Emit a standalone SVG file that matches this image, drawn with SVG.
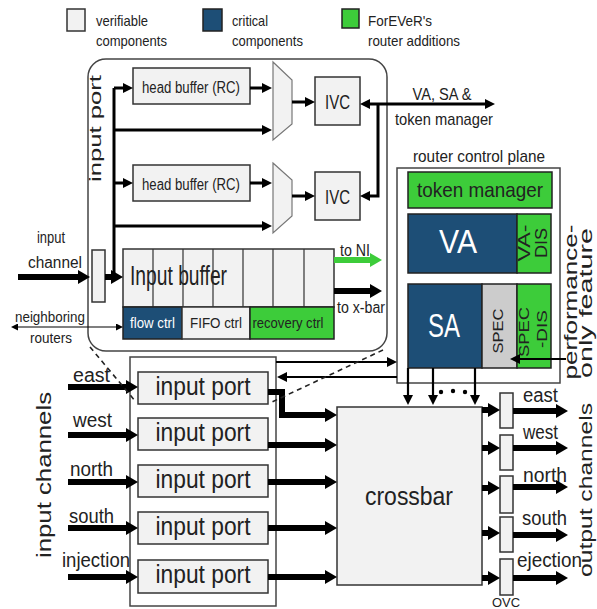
<svg xmlns="http://www.w3.org/2000/svg" width="597" height="609" viewBox="0 0 597 609">
<style>
text{font-family:"Liberation Sans",Arial,sans-serif;fill:#222;}
.lt{fill:#f2f2f2;stroke:#333;stroke-width:1.5;}
.bl{fill:#1d4e76;stroke:#222;stroke-width:1.5;}
.gr{fill:#3dcc3a;stroke:#222;stroke-width:1.5;}
.gy{fill:#cccccc;stroke:#222;stroke-width:1.5;}
.wh{fill:#fff;stroke:#444;stroke-width:1.5;}
.m{fill:none;stroke:#000;stroke-width:3;}
.m2{fill:none;stroke:#000;stroke-width:2.2;}
.t{fill:none;stroke:#000;stroke-width:6;}
.s{fill:none;stroke:#000;stroke-width:1.2;}
.d{fill:none;stroke:#222;stroke-width:1.6;stroke-dasharray:5,4;}
.w{fill:#fff;}
</style>
<defs>
<marker id="aT" markerUnits="userSpaceOnUse" markerWidth="12" markerHeight="14" refX="2" refY="7" orient="auto-start-reverse"><path d="M0,0 L12,7 L0,14 z" fill="#000"/></marker>
<marker id="aG" markerUnits="userSpaceOnUse" markerWidth="12" markerHeight="14" refX="2" refY="7" orient="auto"><path d="M0,0 L12,7 L0,14 z" fill="#3dcc3a"/></marker>
<marker id="aM" markerUnits="userSpaceOnUse" markerWidth="10" markerHeight="10" refX="2" refY="5" orient="auto-start-reverse"><path d="M0,0 L10,5 L0,10 z" fill="#000"/></marker>
<marker id="aS" markerUnits="userSpaceOnUse" markerWidth="7" markerHeight="7" refX="1" refY="3.5" orient="auto-start-reverse"><path d="M0,0 L7,3.5 L0,7 z" fill="#000"/></marker>
</defs>
<rect width="597" height="609" fill="#fff"/>

<g id="legend" font-size="15">
<rect x="67" y="9" width="18" height="22" class="lt"/>
<text x="96" y="26" textLength="52" lengthAdjust="spacingAndGlyphs">verifiable</text>
<text x="96" y="46" textLength="71" lengthAdjust="spacingAndGlyphs">components</text>
<rect x="203" y="9" width="19" height="22" class="bl"/>
<text x="232" y="26" textLength="36" lengthAdjust="spacingAndGlyphs">critical</text>
<text x="232" y="46" textLength="71" lengthAdjust="spacingAndGlyphs">components</text>
<rect x="342" y="9" width="17" height="19" class="gr"/>
<text x="368" y="26" textLength="64" lengthAdjust="spacingAndGlyphs">ForEVeR's</text>
<text x="368" y="46" textLength="92" lengthAdjust="spacingAndGlyphs">router additions</text>
</g>

<g id="input-port-detail">
<rect x="88" y="59" width="299" height="292" rx="18" class="wh"/>
<text transform="translate(101,182) rotate(-90)" font-size="17" textLength="107" lengthAdjust="spacingAndGlyphs">input port</text>
</g>

<g id="head-buffer-1"><rect x="133" y="68" width="117" height="36" class="lt"/><text x="191" y="93" font-size="16" text-anchor="middle" textLength="98" lengthAdjust="spacingAndGlyphs">head buffer (RC)</text></g>
<g id="head-buffer-2"><rect x="133" y="165" width="117" height="36" class="lt"/><text x="191" y="190" font-size="16" text-anchor="middle" textLength="98" lengthAdjust="spacingAndGlyphs">head buffer (RC)</text></g>
<g id="mux-1"><polygon points="273,62 292,80 292,124 273,140" fill="#f2f2f2" stroke="#777" stroke-width="1.2"/></g>
<g id="mux-2"><polygon points="273,163 292,180 292,216 273,233" fill="#f2f2f2" stroke="#777" stroke-width="1.2"/></g>
<g id="ivc-1"><rect x="315" y="77" width="45" height="48" class="lt"/><text x="337.5" y="109" font-size="21" text-anchor="middle" textLength="25" lengthAdjust="spacingAndGlyphs" fill="#444">IVC</text></g>
<g id="ivc-2"><rect x="315" y="172" width="45" height="48" class="lt"/><text x="337.5" y="204" font-size="21" text-anchor="middle" textLength="25" lengthAdjust="spacingAndGlyphs" fill="#444">IVC</text></g>

<g id="input-latch"><rect x="92" y="250" width="13" height="52" class="lt"/></g>
<g id="input-buffer">
<rect x="123" y="249" width="211" height="58" class="lt"/>
<path d="M153,249V307M183,249V307M213,249V307M243,249V307M273,249V307M304,249V307" stroke="#333" stroke-width="1.2"/>
<text x="130" y="285" font-size="27" textLength="97" lengthAdjust="spacingAndGlyphs" fill="#333">Input buffer</text>
<rect x="123" y="307" width="59" height="32" class="bl"/>
<text x="152.5" y="328" font-size="15" text-anchor="middle" textLength="45" lengthAdjust="spacingAndGlyphs" class="w">flow ctrl</text>
<rect x="182" y="307" width="68" height="32" class="lt"/>
<text x="216" y="328" font-size="15" text-anchor="middle" textLength="52" lengthAdjust="spacingAndGlyphs">FIFO ctrl</text>
<rect x="250" y="307" width="84" height="32" class="gr"/>
<text x="288" y="328" font-size="15" text-anchor="middle" textLength="71" lengthAdjust="spacingAndGlyphs">recovery ctrl</text>
</g>

<g id="control-plane">
<text x="479" y="162" font-size="17" text-anchor="middle" textLength="132" lengthAdjust="spacingAndGlyphs">router control plane</text>
<rect x="397" y="168" width="163" height="215" class="wh"/>
</g>
<g id="token-manager"><rect x="408" y="172" width="144" height="36" class="gr"/><text x="480" y="197" font-size="21" text-anchor="middle" textLength="126" lengthAdjust="spacingAndGlyphs">token manager</text></g>
<g id="va">
<rect x="408" y="214" width="109" height="59" class="bl"/>
<text x="458" y="253" font-size="34" text-anchor="middle" textLength="38" lengthAdjust="spacingAndGlyphs" class="w">VA</text>
<rect x="517" y="214" width="34" height="59" class="gr"/>
<text transform="translate(530,243) rotate(-90)" font-size="16" text-anchor="middle" textLength="37" lengthAdjust="spacingAndGlyphs">VA-</text>
<text transform="translate(547,243) rotate(-90)" font-size="16" text-anchor="middle" textLength="30" lengthAdjust="spacingAndGlyphs">DIS</text>
</g>
<g id="sa">
<rect x="408" y="284" width="74" height="84" class="bl"/>
<text x="444" y="337" font-size="33" text-anchor="middle" textLength="32" lengthAdjust="spacingAndGlyphs" class="w">SA</text>
<rect x="482" y="284" width="35" height="84" class="gy"/>
<text transform="translate(503,331) rotate(-90)" font-size="15" text-anchor="middle" textLength="45" lengthAdjust="spacingAndGlyphs">SPEC</text>
<rect x="517" y="284" width="34" height="84" class="gr"/>
<text transform="translate(529,332) rotate(-90)" font-size="15" text-anchor="middle" textLength="50" lengthAdjust="spacingAndGlyphs" fill="#1d3a5a">SPEC</text>
<text transform="translate(547,329) rotate(-90)" font-size="15" text-anchor="middle" textLength="38" lengthAdjust="spacingAndGlyphs" fill="#1d3a5a">-DIS</text>
</g>

<g id="input-ports-box"><rect x="130" y="357" width="146" height="249" class="wh"/></g>
<g id="input-port-east"><rect x="138" y="372" width="130" height="32" class="lt" stroke-width="2.2"/><text x="203" y="395" font-size="26" text-anchor="middle" textLength="95" lengthAdjust="spacingAndGlyphs">input port</text></g>
<g id="input-port-west"><rect x="138" y="418" width="130" height="32" class="lt" stroke-width="2.2"/><text x="203" y="441" font-size="26" text-anchor="middle" textLength="95" lengthAdjust="spacingAndGlyphs">input port</text></g>
<g id="input-port-north"><rect x="138" y="465" width="130" height="32" class="lt" stroke-width="2.2"/><text x="203" y="488" font-size="26" text-anchor="middle" textLength="95" lengthAdjust="spacingAndGlyphs">input port</text></g>
<g id="input-port-south"><rect x="138" y="512" width="130" height="32" class="lt" stroke-width="2.2"/><text x="203" y="535" font-size="26" text-anchor="middle" textLength="95" lengthAdjust="spacingAndGlyphs">input port</text></g>
<g id="input-port-injection"><rect x="138" y="560" width="130" height="33" class="lt" stroke-width="2.2"/><text x="203" y="583" font-size="26" text-anchor="middle" textLength="95" lengthAdjust="spacingAndGlyphs">input port</text></g>

<g id="crossbar"><rect x="337" y="407" width="145" height="178" class="lt"/><text x="409" y="505" font-size="25" text-anchor="middle" textLength="88" lengthAdjust="spacingAndGlyphs">crossbar</text></g>

<g id="ovc-east"><rect x="500" y="393" width="13" height="35" class="lt"/></g>
<g id="ovc-west"><rect x="500" y="435" width="13" height="35" class="lt"/></g>
<g id="ovc-north"><rect x="500" y="476" width="13" height="37" class="lt"/></g>
<g id="ovc-south"><rect x="500" y="517" width="13" height="35" class="lt"/></g>
<g id="ovc-ejection"><rect x="500" y="559" width="13" height="36" class="lt"/></g>

<g id="labels" font-size="20">
<text x="442" y="100" font-size="17" text-anchor="middle" textLength="59" lengthAdjust="spacingAndGlyphs">VA, SA &amp;</text>
<text x="444" y="125" font-size="17" text-anchor="middle" textLength="98" lengthAdjust="spacingAndGlyphs">token manager</text>
<text x="51" y="243" font-size="16" text-anchor="middle" textLength="28" lengthAdjust="spacingAndGlyphs">input</text>
<text x="55" y="268" font-size="16" text-anchor="middle" textLength="54" lengthAdjust="spacingAndGlyphs">channel</text>
<text x="50" y="322" font-size="15" text-anchor="middle" textLength="70" lengthAdjust="spacingAndGlyphs">neighboring</text>
<text x="51" y="343" font-size="15" text-anchor="middle" textLength="42" lengthAdjust="spacingAndGlyphs">routers</text>
<text x="340" y="256" font-size="16" textLength="30" lengthAdjust="spacingAndGlyphs">to NI</text>
<text x="337" y="313" font-size="16" textLength="48" lengthAdjust="spacingAndGlyphs">to x-bar</text>
<text transform="translate(577,302) rotate(-90)" font-size="18" text-anchor="middle" textLength="155" lengthAdjust="spacingAndGlyphs">performance-</text>
<text transform="translate(592,303) rotate(-90)" font-size="18" text-anchor="middle" textLength="150" lengthAdjust="spacingAndGlyphs">only feature</text>
<text transform="translate(592,490) rotate(-90)" font-size="19" text-anchor="middle" textLength="174" lengthAdjust="spacingAndGlyphs">output channels</text>
<text transform="translate(51,475) rotate(-90)" text-anchor="middle" textLength="166" lengthAdjust="spacingAndGlyphs">input channels</text>
<text x="73" y="382" textLength="37" lengthAdjust="spacingAndGlyphs">east</text>
<text x="73" y="427" textLength="39" lengthAdjust="spacingAndGlyphs">west</text>
<text x="70" y="476" textLength="43" lengthAdjust="spacingAndGlyphs">north</text>
<text x="69" y="523" textLength="45" lengthAdjust="spacingAndGlyphs">south</text>
<text x="62" y="567" textLength="68" lengthAdjust="spacingAndGlyphs">injection</text>
<text x="523" y="402" textLength="35" lengthAdjust="spacingAndGlyphs">east</text>
<text x="523" y="439" textLength="35" lengthAdjust="spacingAndGlyphs">west</text>
<text x="523" y="482" textLength="44" lengthAdjust="spacingAndGlyphs">north</text>
<text x="522" y="525" textLength="45" lengthAdjust="spacingAndGlyphs">south</text>
<text x="517" y="567" textLength="65" lengthAdjust="spacingAndGlyphs">ejection</text>
<text x="492" y="607" font-size="12" textLength="28" lengthAdjust="spacingAndGlyphs">OVC</text>
</g>

<g id="connectors">
<path class="m" d="M114,88V278"/>
<path class="m" d="M114,88H125" marker-end="url(#aM)"/>
<path class="m" d="M114,130H264" marker-end="url(#aM)"/>
<path class="m" d="M114,183H125" marker-end="url(#aM)"/>
<path class="m" d="M114,226H264" marker-end="url(#aM)"/>
<path class="m" d="M250,88H264" marker-end="url(#aM)"/>
<path class="m" d="M250,183H264" marker-end="url(#aM)"/>
<path class="m" d="M292,102H307" marker-end="url(#aM)"/>
<path class="m" d="M292,196H307" marker-end="url(#aM)"/>
<path class="m" d="M487,104H368" marker-start="url(#aM)" marker-end="url(#aM)"/>
<path class="m" d="M378,104V196H368" marker-end="url(#aM)"/>
<path class="t" d="M18,277H80" marker-end="url(#aT)"/>
<path class="t" d="M105,277H113" marker-end="url(#aT)"/>
<path class="s" d="M17,327H117" marker-start="url(#aS)" marker-end="url(#aS)"/>
<path d="M334,260H372" fill="none" stroke="#3dcc3a" stroke-width="6" marker-end="url(#aG)"/>
<path class="t" d="M334,291H372" marker-end="url(#aT)"/>
<path class="m2" d="M276,362H389" marker-end="url(#aM)"/>
<path class="m2" d="M397,377H285" marker-end="url(#aM)"/>
<path class="m2" d="M408,368V397" marker-end="url(#aM)"/>
<path class="m2" d="M433,368V397" marker-end="url(#aM)"/>
<path class="m2" d="M475,368V397" marker-end="url(#aM)"/>
<path class="m2" d="M566,359H518" marker-end="url(#aM)"/>
<circle cx="441" cy="392" r="2.2"/><circle cx="453" cy="391" r="2.2"/><circle cx="465" cy="392" r="2.2"/>
<path class="t" d="M68,387H128" marker-end="url(#aT)"/>
<path class="t" d="M68,435H128" marker-end="url(#aT)"/>
<path class="t" d="M68,482H128" marker-end="url(#aT)"/>
<path class="t" d="M68,528H128" marker-end="url(#aT)"/>
<path class="t" d="M68,577H128" marker-end="url(#aT)"/>
<path class="t" d="M268,392H282V415H327" marker-end="url(#aT)"/>
<path class="t" d="M268,445H327" marker-end="url(#aT)"/>
<path class="t" d="M268,482H327" marker-end="url(#aT)"/>
<path class="t" d="M268,528H327" marker-end="url(#aT)"/>
<path class="t" d="M268,577H327" marker-end="url(#aT)"/>
<path class="t" d="M482,410H490" marker-end="url(#aT)"/>
<path class="t" d="M482,448H490" marker-end="url(#aT)"/>
<path class="t" d="M482,488H490" marker-end="url(#aT)"/>
<path class="t" d="M482,533H490" marker-end="url(#aT)"/>
<path class="t" d="M482,578H490" marker-end="url(#aT)"/>
<path class="t" d="M513,411H558" marker-end="url(#aT)"/>
<path class="t" d="M513,448H558" marker-end="url(#aT)"/>
<path class="t" d="M513,487H558" marker-end="url(#aT)"/>
<path class="t" d="M513,535H558" marker-end="url(#aT)"/>
<path class="t" d="M513,578H558" marker-end="url(#aT)"/>
<path class="d" d="M90,347L136,402"/>
<path class="d" d="M383,350L272,402"/>
</g>
</svg>
